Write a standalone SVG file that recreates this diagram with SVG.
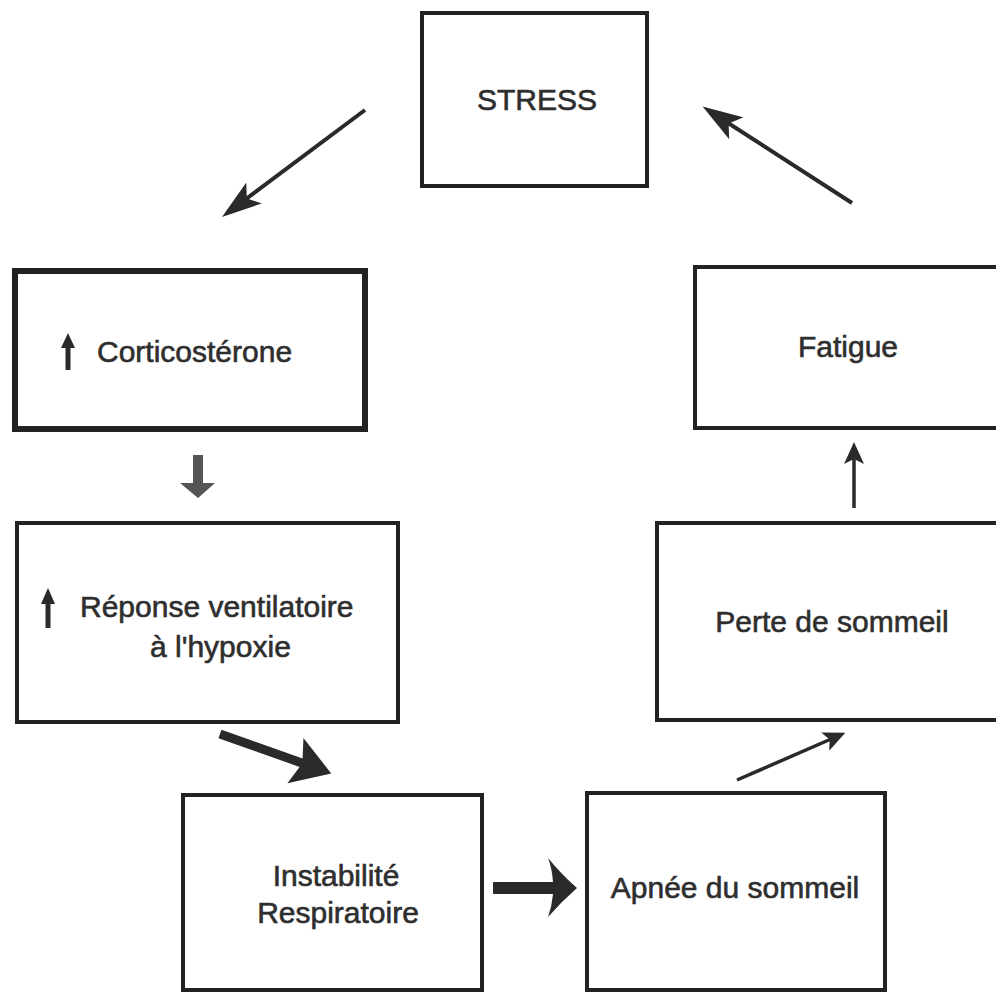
<svg xmlns="http://www.w3.org/2000/svg" width="996" height="995" viewBox="0 0 996 995">
<defs>
<style>
.box{fill:#fff;stroke:#222;stroke-width:4}
.thick{stroke-width:6}
.t{font-family:"Liberation Sans","Open Sans",sans-serif;font-size:30px;fill:#2e2e2e;stroke:#2e2e2e;stroke-width:0.6}
.ln{stroke:#2a2a2a;fill:none}
.fill{fill:#2a2a2a}
</style>
<marker id="big" viewBox="0 0 40 26" refX="30" refY="13" markerWidth="40" markerHeight="26" markerUnits="userSpaceOnUse" orient="auto">
<path d="M0,0 L40,13 L0,26 L9,13 z" fill="#2a2a2a"/>
</marker>
<marker id="small" viewBox="0 0 22 20" refX="14" refY="10" markerWidth="22" markerHeight="20" markerUnits="userSpaceOnUse" orient="auto">
<path d="M0,0 L22,10 L0,20 L5,10 z" fill="#2a2a2a"/>
</marker>
</defs>
<rect width="996" height="995" fill="#fff"/>

<g id="stress">
<rect class="box" x="422" y="13" width="225" height="173"/>
<text class="t" x="537" y="110" text-anchor="middle" font-size="28">STRESS</text>
</g>

<g id="corticosterone">
<rect class="box thick" x="15" y="271" width="350" height="158"/>
<path d="M68,370 L68,346" class="ln" stroke-width="5"/>
<path d="M61,348 L68,333 L75,348 z" class="fill"/>
<text class="t" x="97" y="362">Corticostérone</text>
</g>

<g id="reponse">
<rect class="box" x="17" y="523" width="381" height="199"/>
<path d="M48,628 L48,602" class="ln" stroke-width="5"/>
<path d="M41,604 L48,588 L55,604 z" class="fill"/>
<text class="t" x="80" y="617">Réponse ventilatoire</text>
<text class="t" x="150" y="657">à l'hypoxie</text>
</g>

<g id="instabilite">
<rect class="box" x="183" y="795" width="299" height="195"/>
<text class="t" x="336" y="886" text-anchor="middle">Instabilité</text>
<text class="t" x="338" y="923" text-anchor="middle">Respiratoire</text>
</g>

<g id="apnee">
<rect class="box" x="587" y="793" width="298" height="197"/>
<text class="t" x="735" y="898" text-anchor="middle">Apnée du sommeil</text>
</g>

<g id="perte">
<rect class="box" x="657" y="523" width="345" height="197"/>
<text class="t" x="832" y="632" text-anchor="middle">Perte de sommeil</text>
</g>

<g id="fatigue">
<rect class="box" x="695" y="267" width="310" height="161"/>
<text class="t" x="848" y="357" text-anchor="middle">Fatigue</text>
</g>

<g id="connectors">
<line class="ln" x1="365" y1="110" x2="230" y2="211" stroke-width="4" marker-end="url(#big)"/>
<line class="ln" x1="852" y1="203" x2="711" y2="112" stroke-width="4" marker-end="url(#big)"/>
<path d="M193,455 L203,455 L203,483 L215,483 L198,498 L180,483 L193,483 z" fill="#555"/>
<path d="M0,-4.5 L86,-4.5 L80,-24 L118,0 L80,24 L86,4.5 L0,4.5 z" class="fill" transform="translate(220,734) rotate(19.5)"/>
<path d="M493,882 L553,882 Q552,868 548,858 Q562,875 577,888 Q562,901 548,917 Q552,906 553,894 L493,894 z" class="fill"/>
<line class="ln" x1="737" y1="780" x2="838" y2="736" stroke-width="3.5" marker-end="url(#small)"/>
<line class="ln" x1="854" y1="508" x2="854" y2="450" stroke-width="3.5" marker-end="url(#small)"/>
</g>
</svg>
